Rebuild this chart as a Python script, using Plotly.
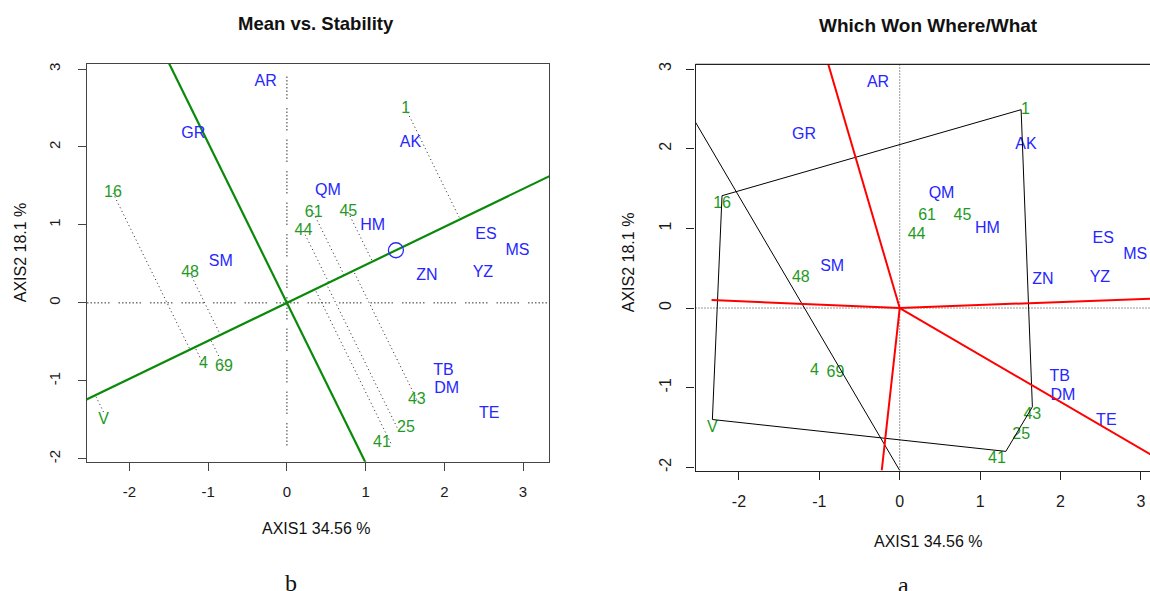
import numpy as np
import plotly.graph_objects as go

# ---------------- data ----------------
gen_names = ["1", "16", "61", "45", "44", "48", "4", "69", "V", "43", "25", "41"]
gen_x = [1.51, -2.21, 0.34, 0.78, 0.21, -1.23, -1.06, -0.80, -2.33, 1.65, 1.40, 1.32]
gen_y = [2.49, 1.41, 1.15, 1.16, 0.92, 0.38, -0.79, -0.82, -1.40, -1.24, -1.60, -1.80]

env_names = ["AR", "GR", "AK", "QM", "HM", "ES", "MS", "YZ", "ZN", "SM", "TB", "DM", "TE"]
env_x = [-0.27, -1.19, 1.57, 0.52, 1.09, 2.53, 2.93, 2.49, 1.78, -0.84, 1.99, 2.03, 2.57]
env_y = [2.83, 2.17, 2.05, 1.43, 0.99, 0.87, 0.67, 0.38, 0.35, 0.52, -0.87, -1.11, -1.42]

mean_env = [1.385, 0.675]            # average-environment marker (circle)
hull_names = ["1", "43", "41", "V", "16"]   # polygon vertices (which-won-where)
aux_x = [-2.62, 0.0]                  # extra thin black line in panel a
aux_y = [2.47, -2.04]

x_ticks = [-2, -1, 0, 1, 2, 3]
y_ticks = [-2, -1, 0, 1, 2, 3]

# ---------------- styles ----------------
FONT = "Liberation Sans, Arial, sans-serif"
GREEN_TXT = "#1f9a1f"
BLUE_TXT = "#2626ff"
AEC_GREEN = "#0a8a0a"
W, H = 1150, 591

L_XR, L_YR = [-2.54, 3.33], [-2.04, 3.07]
R_XR, R_YR = [-2.54, 3.113], [-2.04, 3.06]
RAY_BOX = (-2.34, 3.30, -2.04, 3.07)

GROUP_DOT = "1.5px,2px,1.5px,2px,1.5px,2px,1.5px,2px,1.5px,2px,1.5px,2px,1.5px,9px"

gx, gy = np.array(gen_x), np.array(gen_y)
ex, ey = np.array(env_x), np.array(env_y)
idx = {n: i for i, n in enumerate(gen_names)}

fig = go.Figure()


def line(x, y, xa, ya, color, width, dash="solid"):
    fig.add_trace(go.Scatter(x=x, y=y, mode="lines", xaxis=xa, yaxis=ya,
                             line=dict(color=color, width=width, dash=dash),
                             hoverinfo="skip", showlegend=False))


# ================= LEFT PANEL: Mean vs. Stability =================
all_y = np.concatenate([gy, ey])
line([L_XR[0], L_XR[1]], [0, 0], "x", "y", "#333333", 1, GROUP_DOT)
line([0, 0], [all_y.min() - 0.03, all_y.max() + 0.1], "x", "y", "#333333", 1, GROUP_DOT)

u = np.array(mean_env) / np.linalg.norm(mean_env)
proj = (gx * u[0] + gy * u[1])
px_, py_ = proj * u[0], proj * u[1]
seg_x, seg_y = [], []
for i in range(len(gen_names)):
    seg_x += [gx[i], px_[i], None]
    seg_y += [gy[i], py_[i], None]
line(seg_x, seg_y, "x", "y", "#222222", 1, "1px,3px")

t = np.array([-10, 10])
line(t * u[0], t * u[1], "x", "y", AEC_GREEN, 2.2)
line(-t * u[1], t * u[0], "x", "y", AEC_GREEN, 2.2)

fig.add_trace(go.Scatter(x=[mean_env[0]], y=[mean_env[1]], mode="markers",
                         xaxis="x", yaxis="y",
                         marker=dict(symbol="circle-open", size=15, color="#2a2aff",
                                     line=dict(width=1.3, color="#2a2aff")),
                         hoverinfo="skip", showlegend=False))

pos_left = {"V": "bottom center", "41": "middle left", "25": "middle right"}
pos_right = {"1": "middle right", "16": "bottom center", "V": "bottom center",
             "43": "bottom center", "25": "middle right", "41": "bottom left"}

for xa, ya, pos in (("x", "y", pos_left), ("x2", "y2", pos_right)):
    fig.add_trace(go.Scatter(x=ex, y=ey, text=env_names, mode="text", xaxis=xa, yaxis=ya,
                             textfont=dict(family=FONT, size=16, color=BLUE_TXT),
                             textposition="middle center", hoverinfo="skip", showlegend=False,
                             cliponaxis=False))
    fig.add_trace(go.Scatter(x=gx, y=gy, text=gen_names, mode="text", xaxis=xa, yaxis=ya,
                             textfont=dict(family=FONT, size=16, color=GREEN_TXT),
                             textposition=[pos.get(n, "middle center") for n in gen_names],
                             hoverinfo="skip", showlegend=False, cliponaxis=False))

# ================= RIGHT PANEL: Which Won Where/What =================
line([R_XR[0], R_XR[1]], [0, 0], "x2", "y2", "#333333", 1, "1px,2px")
line([0, 0], [R_YR[0], R_YR[1]], "x2", "y2", "#333333", 1, "1px,2px")

hx = [gx[idx[n]] for n in hull_names] + [gx[idx[hull_names[0]]]]
hy = [gy[idx[n]] for n in hull_names] + [gy[idx[hull_names[0]]]]
line(hx, hy, "x2", "y2", "black", 1)
line(aux_x, aux_y, "x2", "y2", "black", 1)

xlo, xhi, ylo, yhi = RAY_BOX
rx, ry = [], []
for k in range(len(hull_names)):
    a = np.array([hx[k], hy[k]])
    b = np.array([hx[k + 1], hy[k + 1]])
    d = b - a
    foot = a - (a @ d) / (d @ d) * d
    v = foot / np.linalg.norm(foot)
    s = []
    if v[0] > 0: s.append(xhi / v[0])
    if v[0] < 0: s.append(xlo / v[0])
    if v[1] > 0: s.append(yhi / v[1])
    if v[1] < 0: s.append(ylo / v[1])
    L = min(s)
    rx += [0, v[0] * L, None]
    ry += [0, v[1] * L, None]
line(rx, ry, "x2", "y2", "#ff0000", 2)

# ---------------- axes ----------------
def axis(domain, rng, anchor, vals, color, size, mirror, angle=None, standoff=8, ticklen=8):
    d = dict(domain=domain, range=rng, anchor=anchor, tickmode="array", tickvals=vals,
             ticktext=[str(v) for v in vals], showgrid=False, zeroline=False,
             showline=True, linecolor=color, linewidth=1.2, mirror=mirror,
             ticks="outside", ticklen=ticklen, tickcolor=color, tickwidth=1.2,
             tickfont=dict(family=FONT, size=size, color="#1a1a1a"),
             ticklabelstandoff=standoff)
    if angle is not None:
        d["tickangle"] = angle
    return d


fig.update_layout(
    width=W, height=591, margin=dict(l=0, r=0, t=0, b=0),
    paper_bgcolor="white", plot_bgcolor="white", showlegend=False,
    xaxis=axis([87 / W, 549 / W], L_XR, "y", x_ticks, "#444444", 15, True, standoff=8),
    yaxis=axis([1 - 463 / H, 1 - 62 / H], L_YR, "x", y_ticks, "#444444", 15, True, -90, standoff=12),
    xaxis2=axis([695.5 / W, 1.0], R_XR, "y2", x_ticks, "#222222", 16, False, standoff=8),
    yaxis2=axis([1 - 471.7 / H, 1 - 62.7 / H], R_YR, "x2", y_ticks, "#222222", 16, False, -90, standoff=9),
)
fig.add_shape(type="line", xref="x2 domain", yref="y2 domain", x0=0, x1=1, y0=1, y1=1,
              line=dict(color="#222222", width=1.2))

def ann(text, x, y, size, angle=0, bold=False, family=FONT, yanchor="middle"):
    fig.add_annotation(text=f"<b>{text}</b>" if bold else text, x=x / W, y=1 - y / H,
                       xref="paper", yref="paper", showarrow=False, textangle=angle,
                       font=dict(family=family, size=size, color="#111111"),
                       xanchor="center", yanchor=yanchor)

ann("Mean vs. Stability", 316, 22, 18.5, bold=True)
ann("Which Won Where/What", 928, 24, 19, bold=True)
ann("AXIS1 34.56 %", 316, 530, 16)
ann("AXIS1 34.56 %", 928, 543, 16)
ann("AXIS2 18.1 %", 20, 252, 16, angle=-90)
ann("AXIS2 18.1 %", 628, 262, 16, angle=-90)
ann("b", 291, 585, 24, family="Liberation Serif, Times New Roman, serif")
ann("a", 903, 587, 24, family="Liberation Serif, Times New Roman, serif")

fig.write_html("out.html", config={"displayModeBar": False},
               post_script="document.body.style.margin='0';document.body.style.overflow='hidden';")
